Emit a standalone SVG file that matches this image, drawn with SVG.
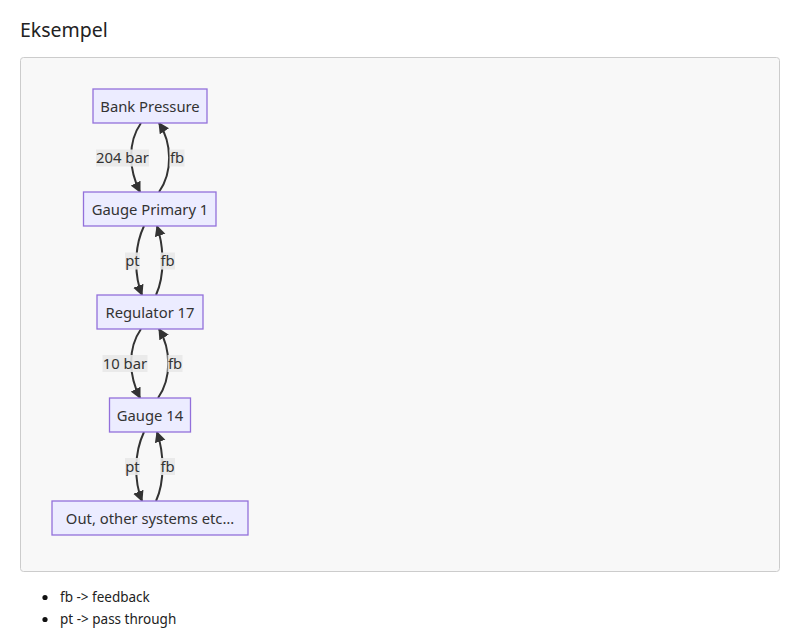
<svg xmlns="http://www.w3.org/2000/svg" width="800" height="644" viewBox="0 0 800 644">
<style>
  .page { font-family: "Noto Sans", "Open Sans", sans-serif; fill: #222; }
  .node rect { fill: #ECECFF; stroke: #9370DB; stroke-width: 1.3; }
  .node text { font-family: "Noto Sans", "Open Sans", sans-serif; font-size: 14.8px; fill: #333; text-anchor: middle; }
  .edge { fill: none; stroke: #333; stroke-width: 2; marker-end: url(#arrow); }
  .lbl rect { fill: #e8e8e8; opacity: 0.9; }
  .lbl text { font-family: "Noto Sans", "Open Sans", sans-serif; font-size: 14.8px; fill: #333; text-anchor: middle; }
</style>
<defs>
  <marker id="arrow" viewBox="0 0 10 10" refX="9" refY="5" markerUnits="userSpaceOnUse" markerWidth="11" markerHeight="12" orient="auto">
    <path d="M0,0 L10,5 L0,10 z" fill="#333"/>
  </marker>
</defs>
<rect width="800" height="644" fill="#ffffff"/>
<text class="page" x="20" y="37" font-size="19.5px">Eksempel</text>
<rect x="20.5" y="57.5" width="759" height="514" rx="3" fill="#f8f8f8" stroke="#cccccc" stroke-width="1"/>

<g id="connectors">
  <path class="edge" d="M141,123 C127,143 129,170 140,192"/>
  <path class="edge" d="M159,192 C173,172 172,143 159,123"/>
  <path class="edge" d="M144,226 C134,247 134,275 142,295"/>
  <path class="edge" d="M156,295 C165,275 164,247 157,226"/>
  <path class="edge" d="M141,329 C127,349 129,376 140,398"/>
  <path class="edge" d="M158,398 C172,378 171,349 159,329"/>
  <path class="edge" d="M144,432 C134,453 134,481 142,501"/>
  <path class="edge" d="M156,501 C165,481 164,453 157,432"/>
  <g class="lbl">
    <rect x="96" y="149.5" width="53" height="17"/><text x="122.5" y="163">204 bar</text>
    <rect x="169.5" y="149.5" width="15" height="17"/><text x="177" y="163">fb</text>
    <rect x="125" y="252.5" width="15" height="17"/><text x="132.5" y="266">pt</text>
    <rect x="160" y="252.5" width="15" height="17"/><text x="167.5" y="266">fb</text>
    <rect x="102.5" y="355" width="45" height="17"/><text x="125" y="368.5">10 bar</text>
    <rect x="167.5" y="355" width="15" height="17"/><text x="175" y="368.5">fb</text>
    <rect x="125" y="458" width="15" height="17"/><text x="132.5" y="471.5">pt</text>
    <rect x="160" y="458" width="15" height="17"/><text x="167.5" y="471.5">fb</text>
  </g>
</g>

<g id="bank" class="node"><rect x="93" y="89" width="114" height="34"/><text x="150" y="111.5">Bank Pressure</text></g>
<g id="gauge1" class="node"><rect x="83.5" y="192" width="132.5" height="34"/><text x="150" y="214.5">Gauge Primary 1</text></g>
<g id="reg17" class="node"><rect x="97" y="295" width="106" height="34"/><text x="150" y="317.5">Regulator 17</text></g>
<g id="gauge14" class="node"><rect x="109.5" y="398" width="81" height="34"/><text x="150" y="420.5">Gauge 14</text></g>
<g id="out" class="node"><rect x="52" y="501" width="196" height="34"/><text x="150" y="523.5">Out, other systems etc…</text></g>

<g class="page" font-size="13.5px">
  <circle cx="45" cy="597.5" r="2.6" fill="#111"/>
  <text x="60" y="602">fb -&gt; feedback</text>
  <circle cx="45" cy="619.5" r="2.6" fill="#111"/>
  <text x="60" y="624">pt -&gt; pass through</text>
</g>
</svg>
